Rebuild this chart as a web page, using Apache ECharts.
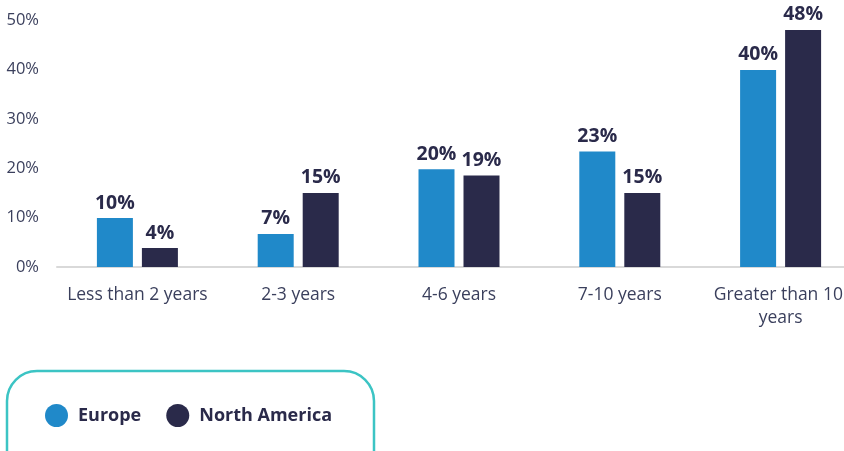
<!DOCTYPE html>
<html>
<head>
<meta charset="utf-8">
<script src="https://cdn.jsdelivr.net/npm/echarts@6/dist/echarts.min.js"></script>
<style>
  html, body { margin: 0; padding: 0; background: #fff; }
  #chart { width: 844px; height: 451px; }
</style>
</head>
<body>
<div id="chart"></div>
<script>
var categories = ['Less than 2 years', '2-3 years', '4-6 years', '7-10 years', 'Greater than 10 years'];
var europe = [9.9, 6.7, 19.8, 23.4, 39.9];
var northAmerica = [3.85, 15, 18.5, 15, 48];
var yTicks = [0, 10, 20, 30, 40, 50];

var chart = echarts.init(document.getElementById('chart'));

var barLabel = {
    show: true,
    position: 'top',
    distance: 5,
    fontFamily: 'Open Sans',
    fontWeight: 'bold',
    fontSize: 19.5,
    color: '#2a2a4a',
    formatter: function (p) { return Math.round(p.value) + '%'; }
};

var option = {
    animation: false,
    textStyle: { fontFamily: 'Open Sans' },
    // the reference crops the plot on the right, so the grid runs past the edge
    grid: { left: 57, right: -17, top: 20, bottom: 184, outerBoundsMode: 'none' },
    legend: {
        left: 40,
        top: 399,
        icon: 'circle',
        itemWidth: 23,
        itemHeight: 23,
        itemGap: 25,
        textStyle: { fontFamily: 'Open Sans', fontWeight: 'bold', fontSize: 18, color: '#2a2a4a', padding: [0, 0, 0, 5] },
        data: ['Europe', 'North America']
    },
    graphic: [{
        type: 'rect',
        shape: { x: 7, y: 371, width: 367, height: 110, r: 30 },
        style: { fill: 'none', stroke: '#3cc4c4', lineWidth: 2.5 }
    }],
    xAxis: {
        type: 'category',
        data: categories,
        axisLine: { lineStyle: { color: '#d9d9d9', width: 2 } },
        axisTick: { show: false },
        axisLabel: {
            margin: 17,
            fontSize: 17.5,
            color: '#3a3f5c',
            lineHeight: 23,
            width: 150,
            overflow: 'break',
            interval: 0
        }
    },
    yAxis: {
        type: 'value',
        min: yTicks[0],
        max: yTicks[yTicks.length - 1],
        interval: 10,
        splitLine: { show: false },
        axisLine: { show: false },
        axisTick: { show: false },
        axisLabel: {
            margin: 18,
            fontSize: 16.5,
            color: '#3a3f5c',
            formatter: '{value}%'
        }
    },
    series: [
        {
            name: 'Europe',
            type: 'bar',
            barWidth: 36,
            barGap: '25%',
            itemStyle: { color: '#2089c9' },
            label: barLabel,
            data: europe
        },
        {
            name: 'North America',
            type: 'bar',
            barWidth: 36,
            barGap: '25%',
            itemStyle: { color: '#2a2a4a' },
            label: barLabel,
            data: northAmerica
        }
    ]
};

chart.setOption(option);
</script>
</body>
</html>
